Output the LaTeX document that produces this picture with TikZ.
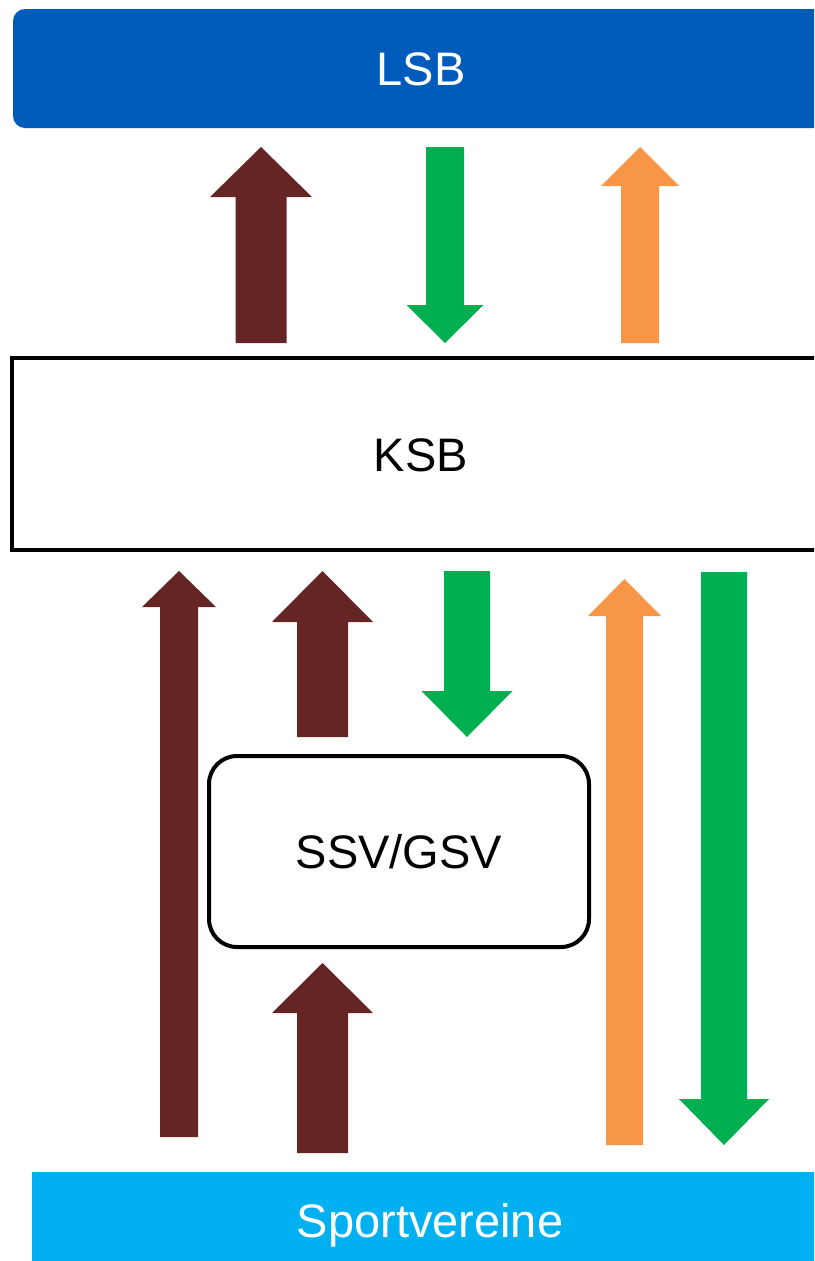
\documentclass[tikz,border=0pt]{standalone}
\usepackage{fontspec}
\setmainfont{Liberation Sans}
\usepackage{xcolor}
\usepackage{tikz}

\definecolor{lsbblau}{RGB}{0,91,187}
\definecolor{vereinblau}{RGB}{0,176,240}
\definecolor{braun}{RGB}{101,37,37}
\definecolor{gruen}{RGB}{0,176,80}
\definecolor{orange}{RGB}{247,150,70}

% block arrow: style, x centre, y tail, y tip, half shaft, half head, y head base
\newcommand{\pfeil}[7]{%
\fill[#1] ({#2-#5},#3) -- ({#2-#5},#7) -- ({#2-#6},#7) -- (#2,#4)
 -- ({#2+#6},#7) -- ({#2+#5},#7) -- ({#2+#5},#3) -- cycle;}

\begin{document}
\begin{tikzpicture}[x=1pt,y=-1pt,
  box/.style={inner sep=0pt,font=\fontsize{47}{56}\selectfont,
    text height=34pt,text depth=0pt},
  lsbbox/.style={box,fill=lsbblau,text=white,rounded corners=12pt,
    minimum width=816pt,minimum height=119pt},
  ksbbox/.style={box,draw=black,line width=4pt,fill=white,
    minimum width=818pt,minimum height=192pt},
  ssvbox/.style={box,draw=black,line width=4pt,fill=white,rounded corners=28pt,
    minimum width=380pt,minimum height=191pt},
  vbox/.style={box,fill=vereinblau,text=white,
    minimum width=796pt,minimum height=96pt}]
\useasboundingbox (0,0) rectangle (814,1261);
\clip (0,0) rectangle (814,1261);

%boxes
\node[lsbbox] (lsb) at (421,68.5) {LSB};
\node[ksbbox] (ksb) at (421,454) {KSB};
\node[ssvbox] (ssv) at (399,851.5) {SSV/GSV};
\node[vbox] (vereine) at (430,1220) {Sportvereine};

%arrows LSB - KSB
\pfeil{braun}{261}{343}{147}{25.5}{51}{197}
\pfeil{gruen}{445}{147}{343}{19}{38.5}{305}
\pfeil{orange}{640}{343}{147}{19}{39}{186}

%arrows below KSB
\pfeil{braun}{179}{1137}{571}{19}{37}{607}
\pfeil{braun}{322.5}{737}{571}{25.5}{50.5}{622}
\pfeil{gruen}{467}{571}{737}{23}{45.5}{691}
\pfeil{orange}{624.5}{1145}{579}{18.5}{36.5}{616}
\pfeil{gruen}{724}{572}{1145}{23}{45}{1099}
\pfeil{braun}{322.5}{1153}{963}{25.5}{50.5}{1013}
\end{tikzpicture}
\end{document}
